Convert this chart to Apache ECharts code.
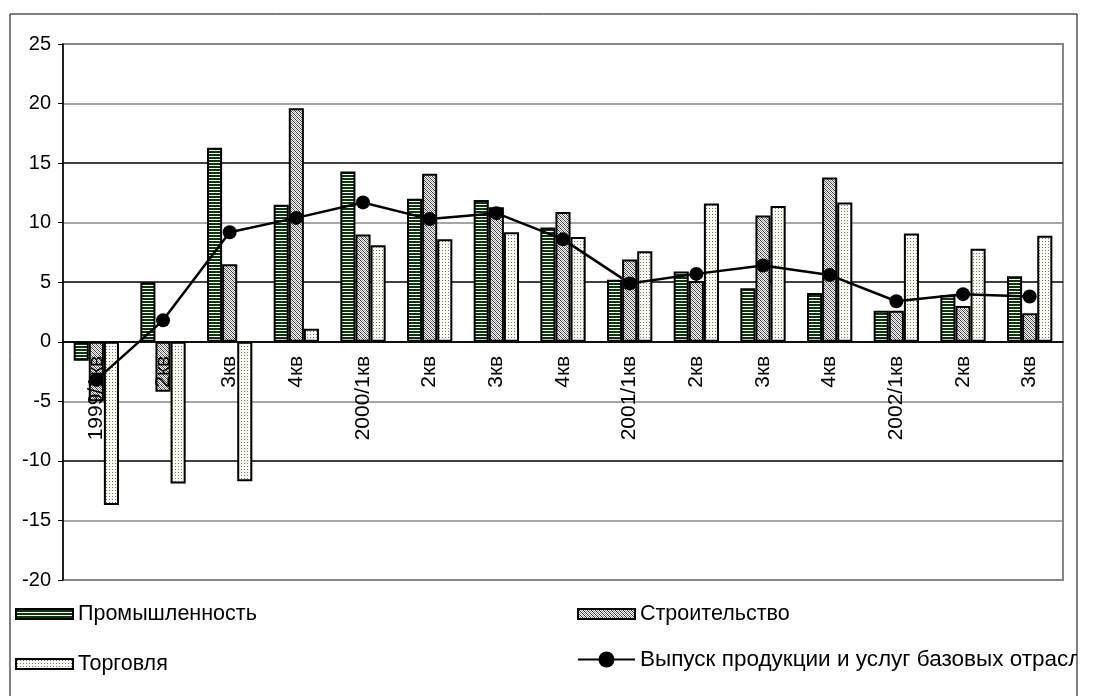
<!DOCTYPE html>
<html>
<head>
<meta charset="utf-8">
<script src="https://cdn.jsdelivr.net/npm/echarts@6/dist/echarts.min.js"></script>
<style>
    html, body { margin: 0; padding: 0; background: #fff; }
    #chart { width: 1093px; height: 696px; }
</style>
</head>
<body>
<div id="chart"></div>
<script>
    // кварталы
    var categories = ['1999/1кв', '2кв', '3кв', '4кв', '2000/1кв', '2кв', '3кв', '4кв',
        '2001/1кв', '2кв', '3кв', '4кв', '2002/1кв', '2кв', '3кв'];

    var industry = [-1.6, 5.0, 16.3, 11.5, 14.3, 12.0, 11.9, 9.6, 5.2, 5.9, 4.5, 4.1, 2.6, 3.9, 5.5];
    var building = [-5.0, -4.2, 6.5, 19.6, 9.0, 14.1, 11.3, 10.9, 6.9, 5.1, 10.6, 13.8, 2.6, 3.0, 2.4];
    var trade = [-13.7, -11.9, -11.7, 1.1, 8.1, 8.6, 9.2, 8.8, 7.6, 11.6, 11.4, 11.7, 9.1, 7.8, 8.9];
    var output = [-3.2, 1.8, 9.2, 10.4, 11.7, 10.3, 10.8, 8.6, 4.9, 5.7, 6.4, 5.6, 3.4, 4.0, 3.8];

    var seriesNames = ['Промышленность', 'Строительство', 'Торговля',
        'Выпуск продукции и услуг базовых отраслей'];

    var yTicks = { min: -20, max: 25, step: 5 };

    var FONT = '"Liberation Sans", Arial, sans-serif';

    var gridTop = 44, gridBottom = 116, chartHeight = 696;
    var frameRight = 1077;

    // заливки-узоры как в Excel
    function makePattern(w, h, draw) {
        var c = document.createElement('canvas');
        c.width = w;
        c.height = h;
        var ctx = c.getContext('2d');
        draw(ctx);
        return { image: c, repeat: 'repeat' };
    }

    var stripes = makePattern(3, 3, function(ctx) {
        ctx.fillStyle = '#ffffff';
        ctx.fillRect(0, 0, 3, 3);
        ctx.fillStyle = '#0a360a';
        ctx.fillRect(0, 1, 3, 2);
    });

    var hatch = makePattern(4, 4, function(ctx) {
        ctx.fillStyle = '#ffffff';
        ctx.fillRect(0, 0, 4, 4);
        for (var i = 0; i < 4; i++) {
            ctx.fillStyle = '#3a3a3a';
            ctx.fillRect(i, i, 1, 1);
            ctx.fillStyle = '#9a9a9a';
            ctx.fillRect((i + 2) % 4, i, 1, 1);
        }
    });

    var dots = makePattern(3, 3, function(ctx) {
        ctx.fillStyle = '#fbfbf6';
        ctx.fillRect(0, 0, 3, 3);
        ctx.fillStyle = '#7a7a70';
        ctx.fillRect(1, 1, 1, 1);
    });

    function barSeries(name, data, fill) {
        return {
            name: name,
            type: 'bar',
            data: data,
            barGap: '0%',
            barCategoryGap: '32%',
            itemStyle: { color: fill, borderColor: '#000', borderWidth: 2 },
            emphasis: { disabled: true },
            z: 2
        };
    }

    function legendBlock(left, top, items, itemHeight, fontSize) {
        return {
            orient: 'vertical',
            left: left, top: top,
            padding: 0,
            itemWidth: 57, itemHeight: itemHeight, itemGap: 28,
            textStyle: { fontFamily: FONT, fontSize: fontSize, color: '#000' },
            data: items
        };
    }

    // ось категорий проходит через ноль
    var plotHeight = chartHeight - gridTop - gridBottom;
    var zeroOffset = plotHeight * (0 - yTicks.min) / (yTicks.max - yTicks.min);

    var chart = echarts.init(document.getElementById('chart'), null, { renderer: 'canvas' });

    chart.setOption({
        animation: false,
        backgroundColor: '#fff',
        textStyle: { fontFamily: FONT, color: '#000' },
        grid: {
            left: 63, right: 30, top: gridTop, bottom: gridBottom,
            show: true, borderColor: '#888', borderWidth: 2
        },
        legend: [
            legendBlock(15, 603, [
                { name: seriesNames[0], icon: 'rect' },
                { name: seriesNames[2], icon: 'rect' }
            ], 10, 21.5),
            legendBlock(577, 603, [{ name: seriesNames[1], icon: 'rect' }], 10, 21.5),
            legendBlock(577, 648, [seriesNames[3]], 20, 22.5)
        ],
        xAxis: {
            type: 'category',
            data: categories,
            position: 'bottom',
            offset: -zeroOffset,
            z: 3,
            axisLine: { onZero: false, lineStyle: { color: '#000', width: 1.5 } },
            axisTick: { length: 5, lineStyle: { color: '#000' } },
            axisLabel: { rotate: 90, margin: 14, fontSize: 21, color: '#000', fontFamily: FONT, interval: 0 },
            splitLine: { show: false }
        },
        yAxis: {
            type: 'value',
            min: yTicks.min, max: yTicks.max, interval: yTicks.step,
            axisLine: { show: true, lineStyle: { color: '#000', width: 1.5 } },
            axisTick: { show: true, length: 5, lineStyle: { color: '#000' } },
            axisLabel: { margin: 12, fontSize: 20, color: '#000', fontFamily: FONT },
            splitLine: {
                lineStyle: {
                    // -20 .. 25, как в исходнике: серые и чёрные вперемешку
                    color: ['#888', '#888', '#000', '#888', '#000', '#000', '#888', '#000', '#888', '#888'],
                    width: 1.5
                }
            }
        },
        graphic: [{
            // обрезаем хвост подписи легенды, как на картинке
            type: 'rect',
            shape: { x: frameRight, y: 0, width: 1093 - frameRight, height: chartHeight },
            style: { fill: '#fff' },
            z: 99
        }, {
            type: 'rect',
            shape: { x: 10, y: 14, width: frameRight - 10, height: 700 },
            style: { fill: 'none', stroke: '#000', lineWidth: 1 },
            z: 100
        }],
        series: [
            barSeries(seriesNames[0], industry, stripes),
            barSeries(seriesNames[1], building, hatch),
            barSeries(seriesNames[2], trade, dots),
            {
                name: seriesNames[3],
                type: 'line',
                data: output,
                symbol: 'circle',
                symbolSize: 14,
                lineStyle: { color: '#000', width: 2.5 },
                itemStyle: { color: '#000' },
                emphasis: { disabled: true },
                z: 5
            }
        ]
    });
</script>
</body>
</html>
